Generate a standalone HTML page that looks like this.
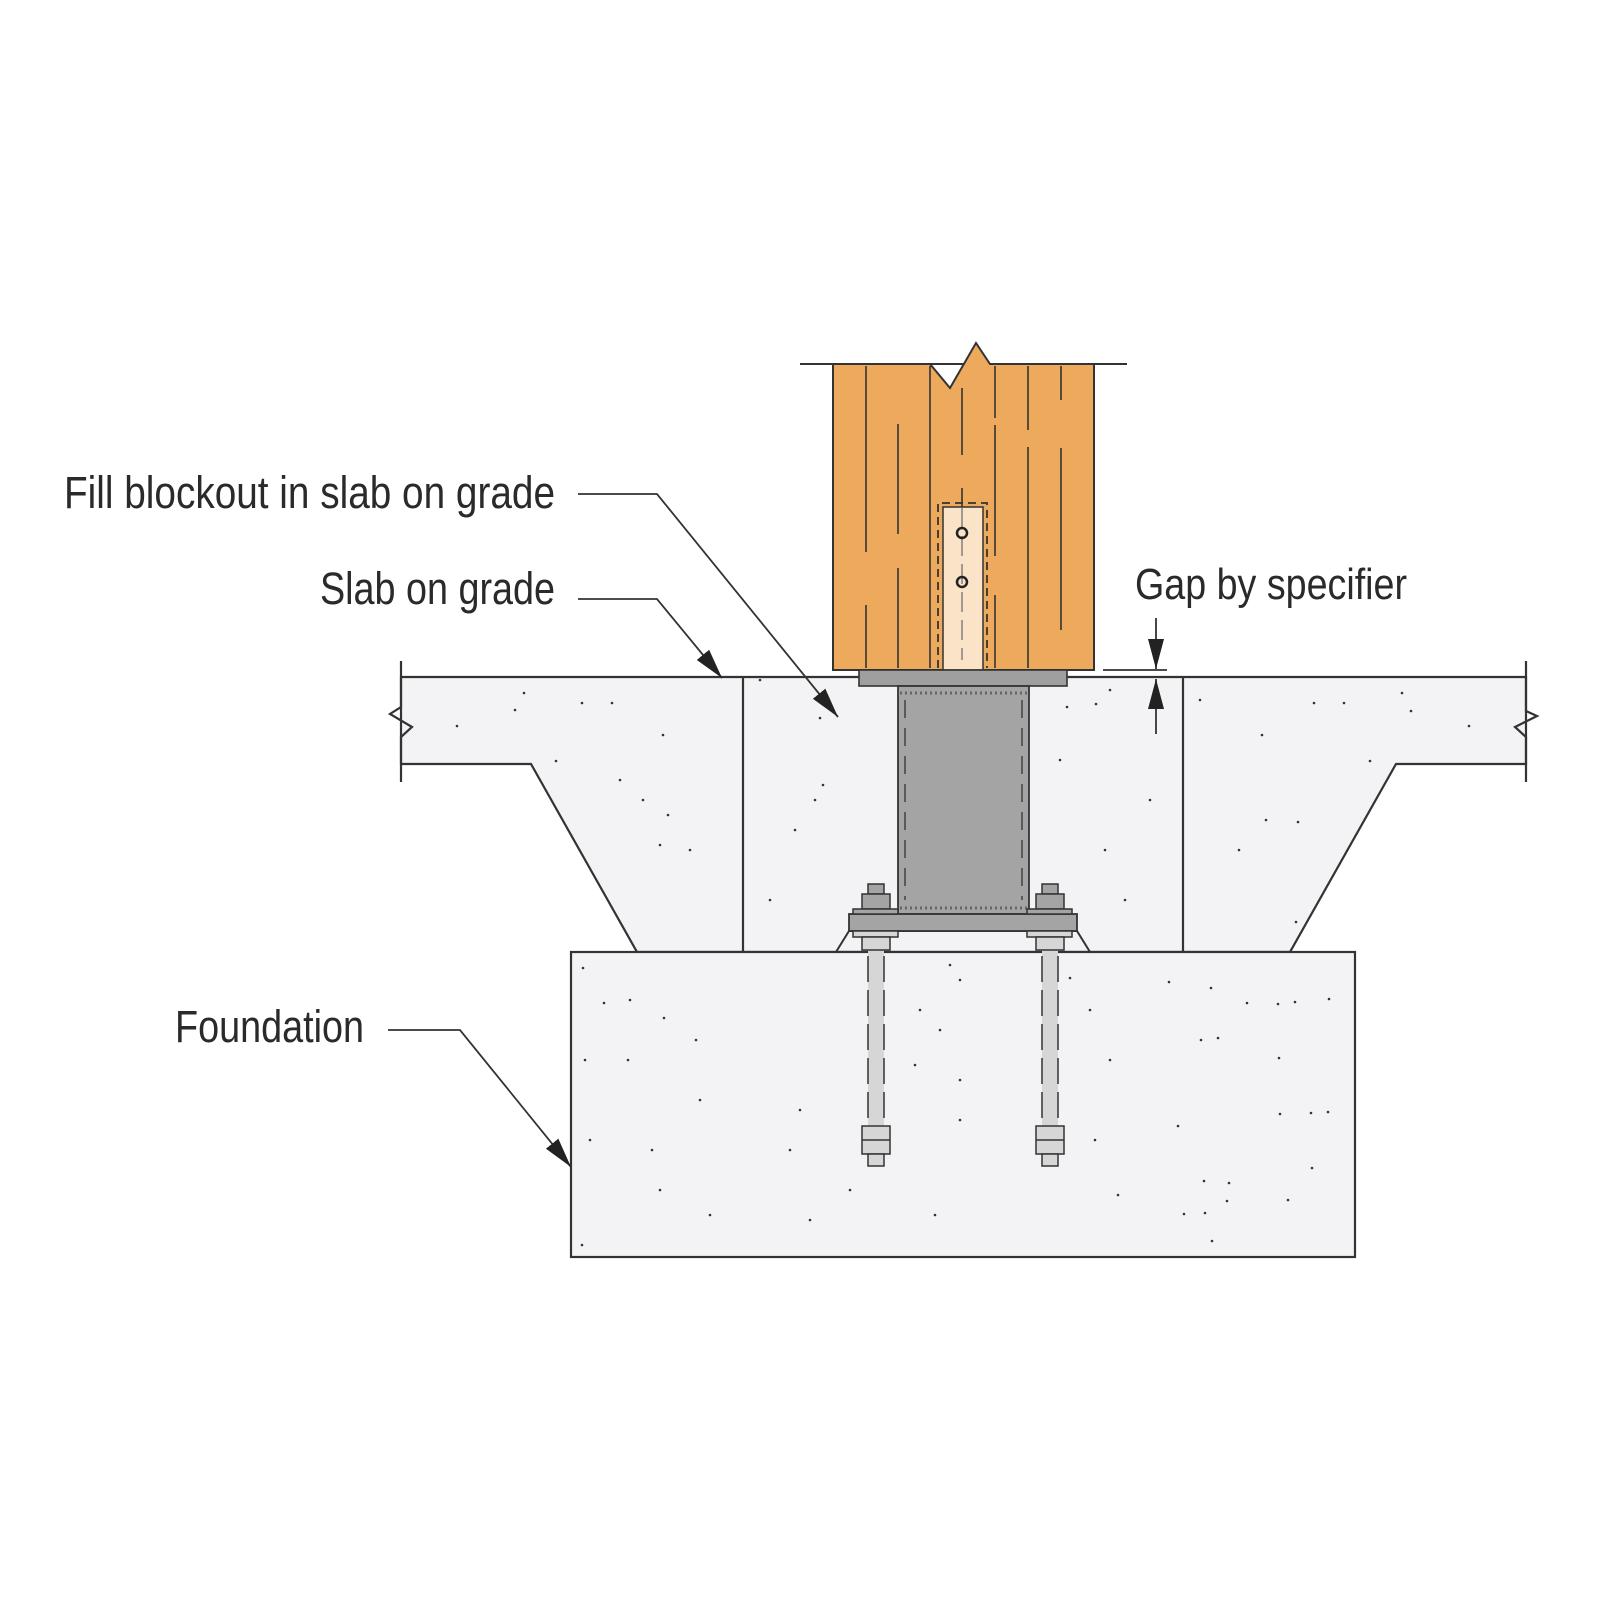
<!DOCTYPE html>
<html><head><meta charset="utf-8"><style>
html,body{margin:0;padding:0;background:#fff;}
svg{display:block;}
text{font-family:"Liberation Sans Narrow","Liberation Sans",sans-serif;fill:#2a2a2a;}
</style></head><body>
<svg width="1600" height="1600" viewBox="0 0 1600 1600" xmlns="http://www.w3.org/2000/svg">
<defs>
<marker id="ah" viewBox="0 0 30 16" refX="30" refY="8" markerWidth="30" markerHeight="16" markerUnits="userSpaceOnUse" orient="auto">
<path d="M0,0 L30,8 L0,16 z" fill="#222"/></marker>
</defs>
<g stroke="#333" stroke-width="2.2" fill="#f3f2f4">
<path d="M401,677 L1526,677 L1526,764 L1396,764 L1290,952 L637,952 L531,764 L401,764 Z"/>
<rect x="571" y="952" width="784" height="305"/>
</g>
<g stroke="#333" stroke-width="2.2" fill="none">
<line x1="743" y1="677" x2="743" y2="952"/>
<line x1="1183" y1="677" x2="1183" y2="952"/>
<path d="M401,661 L401,707 L390,714 L412,727 L401,737 L401,782"/>
<path d="M1526,661 L1526,711 L1537,716 L1515,727 L1526,737 L1526,782"/>
</g>
<g fill="#333">
<circle cx="524" cy="693" r="1.3"/><circle cx="515" cy="710" r="1.3"/><circle cx="457" cy="726" r="1.3"/><circle cx="582" cy="703" r="1.3"/><circle cx="612" cy="703" r="1.3"/><circle cx="663" cy="735" r="1.3"/><circle cx="556" cy="761" r="1.3"/><circle cx="643" cy="800" r="1.3"/><circle cx="668" cy="815" r="1.3"/><circle cx="660" cy="845" r="1.3"/><circle cx="690" cy="850" r="1.3"/><circle cx="620" cy="780" r="1.3"/>
<circle cx="760" cy="680" r="1.3"/><circle cx="820" cy="718" r="1.3"/><circle cx="815" cy="800" r="1.3"/><circle cx="795" cy="830" r="1.3"/><circle cx="823" cy="785" r="1.3"/><circle cx="770" cy="900" r="1.3"/>
<circle cx="1067" cy="707" r="1.3"/><circle cx="1096" cy="704" r="1.3"/><circle cx="1110" cy="690" r="1.3"/><circle cx="1060" cy="760" r="1.3"/><circle cx="1105" cy="850" r="1.3"/><circle cx="1125" cy="900" r="1.3"/><circle cx="1150" cy="800" r="1.3"/>
<circle cx="1200" cy="700" r="1.3"/><circle cx="1314" cy="703" r="1.3"/><circle cx="1344" cy="703" r="1.3"/><circle cx="1402" cy="693" r="1.3"/><circle cx="1411" cy="711" r="1.3"/><circle cx="1469" cy="726" r="1.3"/><circle cx="1262" cy="735" r="1.3"/><circle cx="1370" cy="761" r="1.3"/><circle cx="1266" cy="820" r="1.3"/><circle cx="1298" cy="822" r="1.3"/><circle cx="1239" cy="850" r="1.3"/><circle cx="1296" cy="922" r="1.3"/>
<circle cx="583" cy="968" r="1.3"/><circle cx="604" cy="1003" r="1.3"/><circle cx="630" cy="1000" r="1.3"/><circle cx="664" cy="1018" r="1.3"/><circle cx="585" cy="1060" r="1.3"/><circle cx="628" cy="1060" r="1.3"/><circle cx="696" cy="1040" r="1.3"/><circle cx="700" cy="1100" r="1.3"/><circle cx="590" cy="1140" r="1.3"/><circle cx="652" cy="1150" r="1.3"/><circle cx="660" cy="1190" r="1.3"/><circle cx="582" cy="1245" r="1.3"/><circle cx="710" cy="1215" r="1.3"/><circle cx="800" cy="1110" r="1.3"/><circle cx="790" cy="1150" r="1.3"/><circle cx="810" cy="1220" r="1.3"/><circle cx="850" cy="1190" r="1.3"/>
<circle cx="950" cy="965" r="1.3"/><circle cx="960" cy="980" r="1.3"/><circle cx="920" cy="1010" r="1.3"/><circle cx="940" cy="1030" r="1.3"/><circle cx="915" cy="1065" r="1.3"/><circle cx="960" cy="1080" r="1.3"/><circle cx="935" cy="1215" r="1.3"/><circle cx="960" cy="1120" r="1.3"/>
<circle cx="1070" cy="978" r="1.3"/><circle cx="1090" cy="1010" r="1.3"/><circle cx="1110" cy="1060" r="1.3"/><circle cx="1095" cy="1140" r="1.3"/><circle cx="1118" cy="1195" r="1.3"/>
<circle cx="1169" cy="982" r="1.3"/><circle cx="1211" cy="988" r="1.3"/><circle cx="1247" cy="1003" r="1.3"/><circle cx="1278" cy="1004" r="1.3"/><circle cx="1295" cy="1002" r="1.3"/><circle cx="1329" cy="999" r="1.3"/><circle cx="1201" cy="1040" r="1.3"/><circle cx="1218" cy="1038" r="1.3"/><circle cx="1279" cy="1058" r="1.3"/><circle cx="1280" cy="1114" r="1.3"/><circle cx="1311" cy="1113" r="1.3"/><circle cx="1328" cy="1112" r="1.3"/><circle cx="1178" cy="1126" r="1.3"/><circle cx="1312" cy="1168" r="1.3"/><circle cx="1204" cy="1181" r="1.3"/><circle cx="1229" cy="1183" r="1.3"/><circle cx="1227" cy="1201" r="1.3"/><circle cx="1288" cy="1200" r="1.3"/><circle cx="1184" cy="1214" r="1.3"/><circle cx="1205" cy="1213" r="1.3"/><circle cx="1212" cy="1241" r="1.3"/>
</g>
<line x1="800" y1="364" x2="1127" y2="364" stroke="#333" stroke-width="2"/>
<path d="M833,364 L930,364 L950,388 L976,343 L990,364 L1094,364 L1094,670 L833,670 Z" fill="#edaa5c" stroke="#333" stroke-width="2"/>
<g stroke="#333" stroke-width="1.6" fill="none">
<line x1="866" y1="366" x2="866" y2="552"/><line x1="866" y1="605" x2="866" y2="668"/>
<line x1="898" y1="424" x2="898" y2="534"/><line x1="898" y1="568" x2="898" y2="668"/>
<line x1="930" y1="366" x2="930" y2="668"/>
<line x1="962" y1="388" x2="962" y2="455"/><line x1="962" y1="488" x2="962" y2="650"/>
<line x1="995" y1="366" x2="995" y2="418"/><line x1="995" y1="425" x2="995" y2="556"/><line x1="995" y1="595" x2="995" y2="668"/>
<line x1="1028" y1="366" x2="1028" y2="430"/><line x1="1028" y1="447" x2="1028" y2="668"/>
<line x1="1061" y1="366" x2="1061" y2="400"/><line x1="1061" y1="448" x2="1061" y2="630"/>
</g>
<path d="M938,668 L938,503 L987,503 L987,668" fill="none" stroke="#333" stroke-width="1.8" stroke-dasharray="8,5"/>
<rect x="943" y="507" width="40" height="163" fill="#fbe3c8" stroke="#333" stroke-width="1.5"/>
<line x1="962" y1="508" x2="962" y2="660" stroke="#666" stroke-width="1.2" stroke-dasharray="20,8"/>
<circle cx="962" cy="533" r="5" fill="none" stroke="#222" stroke-width="2.5"/>
<circle cx="962" cy="582" r="5" fill="none" stroke="#222" stroke-width="2.5"/>
<path d="M836,952 L849,931 L1077,931 L1090,952" fill="none" stroke="#333" stroke-width="2"/>
<rect x="859" y="670" width="208" height="16" fill="#9f9f9f" stroke="#333" stroke-width="1.6"/>
<rect x="898" y="686" width="131" height="228" fill="#a4a4a4" stroke="#333" stroke-width="1.8"/>
<line x1="905" y1="700" x2="905" y2="900" stroke="#333" stroke-width="1.3" stroke-dasharray="18,10"/>
<line x1="1022" y1="700" x2="1022" y2="900" stroke="#333" stroke-width="1.3" stroke-dasharray="18,10"/>
<line x1="900" y1="693" x2="1027" y2="693" stroke="#666" stroke-width="3" stroke-dasharray="2,3"/>
<line x1="900" y1="908" x2="1027" y2="908" stroke="#666" stroke-width="3" stroke-dasharray="2,3"/>
<rect x="849" y="914" width="228" height="17" fill="#a4a4a4" stroke="#333" stroke-width="1.8"/>
<g stroke="#333" stroke-width="1.5">
<g>
<rect x="868" y="950" width="16" height="200" fill="#d6d6d6" stroke="none"/>
<line x1="868" y1="956" x2="868" y2="1126" stroke-dasharray="26,8"/><line x1="884" y1="956" x2="884" y2="1126" stroke-dasharray="26,8"/>
<rect x="868" y="884" width="16" height="10" fill="#a4a4a4"/>
<rect x="862" y="894" width="28" height="15" fill="#a4a4a4"/>
<rect x="853" y="909" width="45" height="5" fill="#a4a4a4"/>
<rect x="853" y="931" width="45" height="6" fill="#d6d6d6"/>
<rect x="862" y="937" width="28" height="13" fill="#d6d6d6"/>
<rect x="862" y="1126" width="28" height="28" fill="#d6d6d6"/>
<line x1="862" y1="1140" x2="890" y2="1140"/>
<rect x="868" y="1154" width="16" height="12" fill="#d6d6d6"/>
</g>
<g transform="translate(174,0)">
<rect x="868" y="950" width="16" height="200" fill="#d6d6d6" stroke="none"/>
<line x1="868" y1="956" x2="868" y2="1126" stroke-dasharray="26,8"/><line x1="884" y1="956" x2="884" y2="1126" stroke-dasharray="26,8"/>
<rect x="868" y="884" width="16" height="10" fill="#a4a4a4"/>
<rect x="862" y="894" width="28" height="15" fill="#a4a4a4"/>
<rect x="853" y="909" width="45" height="5" fill="#a4a4a4"/>
<rect x="853" y="931" width="45" height="6" fill="#d6d6d6"/>
<rect x="862" y="937" width="28" height="13" fill="#d6d6d6"/>
<rect x="862" y="1126" width="28" height="28" fill="#d6d6d6"/>
<line x1="862" y1="1140" x2="890" y2="1140"/>
<rect x="868" y="1154" width="16" height="12" fill="#d6d6d6"/>
</g>
</g>
<g stroke="#333" stroke-width="1.8" fill="none">
<polyline points="578,494 657,494 838,717" marker-end="url(#ah)"/>
<polyline points="578,599 657,599 722,678" marker-end="url(#ah)"/>
<polyline points="388,1030 460,1030 571,1167" marker-end="url(#ah)"/>
<line x1="1103" y1="670" x2="1167" y2="670"/>
<line x1="1156" y1="618" x2="1156" y2="669" marker-end="url(#ah)"/>
<line x1="1156" y1="734" x2="1156" y2="679" marker-end="url(#ah)"/>
</g>
<text x="64" y="508" font-size="45" textLength="491" lengthAdjust="spacingAndGlyphs">Fill blockout in slab on grade</text>
<text x="320" y="604" font-size="45" textLength="235" lengthAdjust="spacingAndGlyphs">Slab on grade</text>
<text x="1135" y="599" font-size="44" textLength="272" lengthAdjust="spacingAndGlyphs">Gap by specifier</text>
<text x="175" y="1042" font-size="45" textLength="189" lengthAdjust="spacingAndGlyphs">Foundation</text>
</svg>
</body></html>
